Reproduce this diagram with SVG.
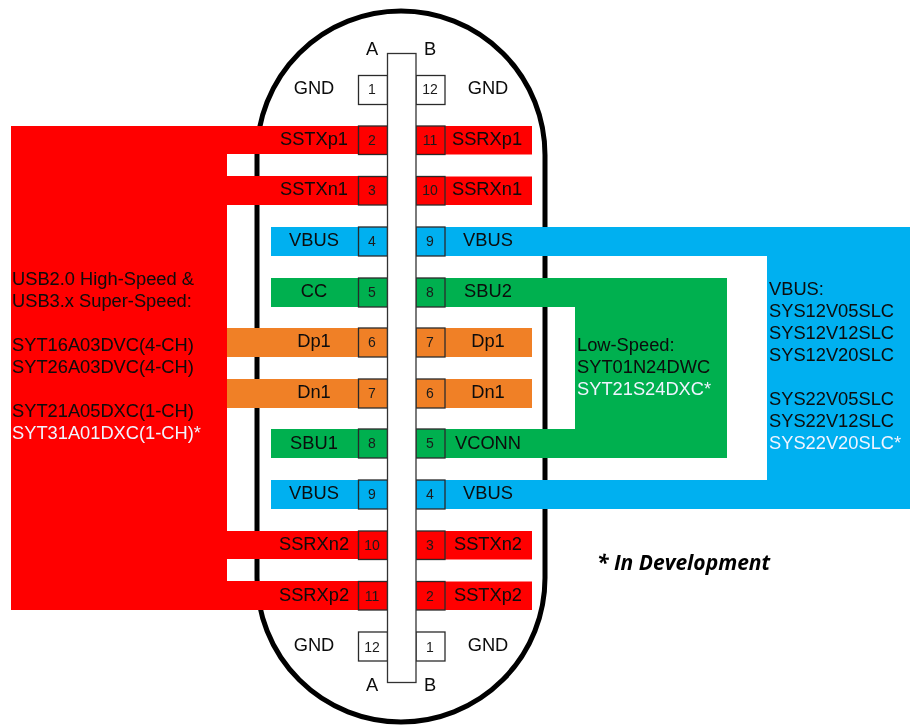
<svg xmlns="http://www.w3.org/2000/svg" width="910" height="725" viewBox="0 0 910 725">
<style>
text{font-family:"Liberation Sans",Arial,sans-serif;font-size:18.300px;fill:#0a0a0a}
.m{text-anchor:middle}
.n{font-size:14px;text-anchor:middle;fill:#1a1a1a}
.w{fill:#f0f4ff}
.pin{stroke:#2a2a2a;stroke-width:1.300}
.red{fill:#ff0000}.blue{fill:#00b0f0}.green{fill:#00b050}.orange{fill:#f08028}
</style>
<defs><filter id="soft" filterUnits="userSpaceOnUse" x="0" y="0" width="910" height="725"><feGaussianBlur stdDeviation="0.350"/></filter></defs>
<rect width="910" height="725" fill="#fff"/>
<g filter="url(#soft)">
<g id="shell"><rect x="257" y="11" width="288" height="711" rx="144" ry="144" fill="#fff" stroke="#000" stroke-width="5"/></g>
<g id="connectors">
<path class="red" d="M11 126H358V154H227V176H358V205H227V531H358V559H227V581H358V610H11Z"/>
<rect class="red" x="416" y="126" width="116" height="28.500"/>
<rect class="red" x="416" y="176.500" width="116" height="28.500"/>
<rect class="red" x="416" y="531" width="116" height="28.500"/>
<rect class="red" x="416" y="581.500" width="116" height="28.500"/>
<rect class="blue" x="271" y="227" width="87" height="29"/>
<rect class="blue" x="271" y="480" width="87" height="29"/>
<path class="blue" d="M416 227H910V509H416V480H767V256H416Z"/>
<rect class="green" x="271" y="278" width="87" height="29"/>
<rect class="green" x="271" y="429" width="87" height="29"/>
<path class="green" d="M416 278H727V458H416V429H575V307H416Z"/>
<rect class="orange" x="227" y="328" width="131" height="29"/>
<rect class="orange" x="227" y="379" width="131" height="29"/>
<rect class="orange" x="416" y="328" width="116" height="29"/>
<rect class="orange" x="416" y="379" width="116" height="29"/>
</g>
<g id="pins-a">
<rect class="pin" x="358.500" y="75.500" width="29" height="29" fill="#fff"/>
<rect class="pin red" x="358.500" y="126" width="29" height="28.500"/>
<rect class="pin red" x="358.500" y="176.500" width="29" height="28.500"/>
<rect class="pin blue" x="358.500" y="227" width="29" height="29"/>
<rect class="pin green" x="358.500" y="278" width="29" height="29"/>
<rect class="pin orange" x="358.500" y="328" width="29" height="29"/>
<rect class="pin orange" x="358.500" y="379" width="29" height="29"/>
<rect class="pin green" x="358.500" y="429" width="29" height="29"/>
<rect class="pin blue" x="358.500" y="480" width="29" height="29"/>
<rect class="pin red" x="358.500" y="531" width="29" height="28.500"/>
<rect class="pin red" x="358.500" y="581.500" width="29" height="28.500"/>
<rect class="pin" x="358.500" y="632" width="29" height="29" fill="#fff"/>
</g>
<g id="pins-b">
<rect class="pin" x="416" y="75.500" width="29" height="29" fill="#fff"/>
<rect class="pin red" x="416" y="126" width="29" height="28.500"/>
<rect class="pin red" x="416" y="176.500" width="29" height="28.500"/>
<rect class="pin blue" x="416" y="227" width="29" height="29"/>
<rect class="pin green" x="416" y="278" width="29" height="29"/>
<rect class="pin orange" x="416" y="328" width="29" height="29"/>
<rect class="pin orange" x="416" y="379" width="29" height="29"/>
<rect class="pin green" x="416" y="429" width="29" height="29"/>
<rect class="pin blue" x="416" y="480" width="29" height="29"/>
<rect class="pin red" x="416" y="531" width="29" height="28.500"/>
<rect class="pin red" x="416" y="581.500" width="29" height="28.500"/>
<rect class="pin" x="416" y="632" width="29" height="29" fill="#fff"/>
</g>
<g id="tongue"><rect x="387.500" y="53.500" width="28.500" height="629" fill="#fff" stroke="#333" stroke-width="1.300"/></g>
<g id="pin-numbers">
<text class="n" x="372" y="94">1</text><text class="n" x="372" y="144.500">2</text><text class="n" x="372" y="195">3</text><text class="n" x="372" y="246">4</text><text class="n" x="372" y="297">5</text><text class="n" x="372" y="347">6</text><text class="n" x="372" y="398">7</text><text class="n" x="372" y="448">8</text><text class="n" x="372" y="499">9</text><text class="n" x="372" y="550">10</text><text class="n" x="372" y="600.500">11</text><text class="n" x="372" y="651.500">12</text>
<text class="n" x="430" y="94">12</text><text class="n" x="430" y="144.500">11</text><text class="n" x="430" y="195">10</text><text class="n" x="430" y="246">9</text><text class="n" x="430" y="297">8</text><text class="n" x="430" y="347">7</text><text class="n" x="430" y="398">6</text><text class="n" x="430" y="448">5</text><text class="n" x="430" y="499">4</text><text class="n" x="430" y="550">3</text><text class="n" x="430" y="600.500">2</text><text class="n" x="430" y="651.500">1</text>
</g>
<g id="labels">
<text class="m" x="372" y="54.500">A</text><text class="m" x="430" y="54.500">B</text>
<text class="m" x="372" y="691">A</text><text class="m" x="430" y="691">B</text>
<text class="m" x="314" y="94">GND</text><text class="m" x="488" y="94">GND</text>
<text class="m" x="314" y="144.500">SSTXp1</text><text class="m" x="487" y="144.500">SSRXp1</text>
<text class="m" x="314" y="195">SSTXn1</text><text class="m" x="487" y="195">SSRXn1</text>
<text class="m" x="314" y="245.500">VBUS</text><text class="m" x="488" y="245.500">VBUS</text>
<text class="m" x="314" y="296.500">CC</text><text class="m" x="488" y="296.500">SBU2</text>
<text class="m" x="314" y="347">Dp1</text><text class="m" x="488" y="347">Dp1</text>
<text class="m" x="314" y="398">Dn1</text><text class="m" x="488" y="398">Dn1</text>
<text class="m" x="314" y="448.500">SBU1</text><text class="m" x="488" y="448.500">VCONN</text>
<text class="m" x="314" y="499">VBUS</text><text class="m" x="488" y="499">VBUS</text>
<text class="m" x="314" y="550">SSRXn2</text><text class="m" x="488" y="550">SSTXn2</text>
<text class="m" x="314" y="600.500">SSRXp2</text><text class="m" x="488" y="600.500">SSTXp2</text>
<text class="m" x="314" y="651">GND</text><text class="m" x="488" y="651">GND</text>
</g>
<g id="note-red">
<text x="12" y="284.500">USB2.0 High-Speed &amp;</text>
<text x="12" y="306.500">USB3.x Super-Speed:</text>
<text x="12" y="350.500">SYT16A03DVC(4-CH)</text>
<text x="12" y="372.500">SYT26A03DVC(4-CH)</text>
<text x="12" y="416.500">SYT21A05DXC(1-CH)</text>
<text x="12" y="438.500" class="w">SYT31A01DXC(1-CH)*</text>
</g>
<g id="note-green">
<text x="577" y="350.500">Low-Speed:</text>
<text x="577" y="372.500">SYT01N24DWC</text>
<text x="577" y="394.500" class="w">SYT21S24DXC*</text>
</g>
<g id="note-blue">
<text x="769" y="295">VBUS:</text>
<text x="769" y="317">SYS12V05SLC</text>
<text x="769" y="339">SYS12V12SLC</text>
<text x="769" y="361">SYS12V20SLC</text>
<text x="769" y="405">SYS22V05SLC</text>
<text x="769" y="427">SYS22V12SLC</text>
<text x="769" y="449" class="w">SYS22V20SLC*</text>
</g>
<g id="footnote"><text x="597" y="570" style="font-family:'Open Sans',sans-serif;font-weight:700;font-style:italic;font-size:21px;fill:#000">* In Development</text></g>
</g>
</svg>
